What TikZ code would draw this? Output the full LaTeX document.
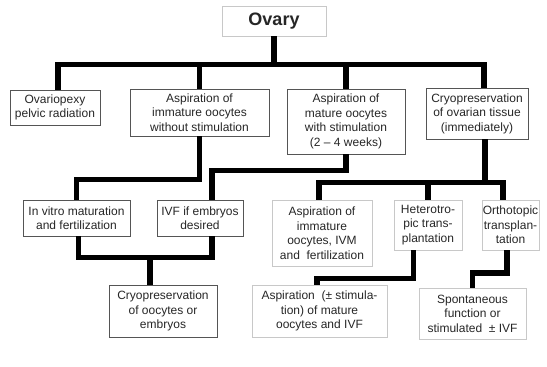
\documentclass[tikz,border=0pt]{standalone}
\usepackage{fontspec}
\setmainfont{Liberation Sans}
\definecolor{boxdark}{HTML}{555555}
\definecolor{boxpale}{HTML}{C8C8C8}

\begin{document}
\begin{tikzpicture}[x=1pt, y=-1pt,
	box/.style={draw=boxdark, line width=0.8pt, align=center, inner sep=0pt,
		font=\fontsize{12}{14.5}\selectfont, text=black!85},
	pale/.style={box, draw=boxpale},
	link/.style={line width=5.5pt}]

	\useasboundingbox (0,0) rectangle (547,367);

	\node[pale, minimum width=104pt, minimum height=30pt, font=\fontsize{18}{20}\selectfont\bfseries] (ovary) at (274,21) {Ovary};

	\node[box, minimum width=90pt, minimum height=35pt] (pexy) at (55,107.5) {Ovariopexy\\pelvic radiation};
	\node[box, minimum width=139pt, minimum height=47pt] (imm) at (199.5,112.5) {Aspiration of\\immature oocytes\\without stimulation};
	\node[box, minimum width=118pt, minimum height=65pt] (mat) at (346,121.5) {Aspiration of\\mature oocytes\\with stimulation\\(2 – 4 weeks)};
	\node[box, minimum width=102pt, minimum height=51pt] (tissue) at (477,113.5) {Cryopreservation\\of ovarian tissue\\(immediately)};

	\node[box, minimum width=107pt, minimum height=36pt] (ivm) at (76.5,218) {In vitro maturation\\and fertilization};
	\node[box, minimum width=86pt, minimum height=36pt] (ivf) at (200,218) {IVF if embryos\\desired};
	\node[pale, minimum width=100pt, minimum height=66pt] (immivm) at (322,233) {Aspiration of\\immature\\oocytes, IVM\\and~ fertilization};
	\node[pale, minimum width=68pt, minimum height=50pt] (hetero) at (428,225) {Heterotro-\\pic trans-\\plantation};
	\node[pale, minimum width=57pt, minimum height=50pt] (ortho) at (510.5,225) {Orthotopic\\transplan-\\tation};

	\node[box, minimum width=108pt, minimum height=52pt] (frozen) at (163,311) {Cryopreservation\\of oocytes or\\embryos};
	\node[pale, minimum width=135pt, minimum height=52pt] (mativf) at (319.5,311) {Aspiration~ (± stimula-\\tion) of mature\\oocytes and IVF};
	\node[pale, minimum width=107pt, minimum height=51pt] (spont) at (472.5,313.5) {Spontaneous\\function or\\stimulated~ ± IVF};

	\coordinate (top) at (274,64.5);
	\draw[link] (ovary.south) -- (top);
	\draw[link] ([xshift=3pt]pexy.north) |- (top) -| ([xshift=7pt]tissue.north);
	\draw[link] (imm.north) -- (imm.north |- top);
	\draw[link] (mat.north) -- (mat.north |- top);

	\draw[link] (imm.south) -- ++(0,43) -| (ivm.north);
	\draw[link] (mat.south) -- ++(0,16) -| ([xshift=12pt]ivf.north);

	\draw[link] ([xshift=8pt]tissue.south) -- ++(0,43) coordinate (split);
	\draw[link] ([xshift=-3pt]immivm.north) |- (split) -| ([xshift=-7.5pt]ortho.north);
	\draw[link] (hetero.north) -- (hetero.north |- split);

	\draw[link] ([xshift=2pt]ivm.south) -- ++(0,21) -| ([xshift=12pt]ivf.south);
	\draw[link] ([xshift=-13pt]frozen.north) -- ++(0,-28);

	\draw[link] ([xshift=-14.5pt]hetero.south) -- ++(0,28) -| ([xshift=-2.5pt]mativf.north);
	\draw[link] ([xshift=-3.5pt]ortho.south) -- ++(0,22.5) -| (spont.north);

\end{tikzpicture}
\end{document}
